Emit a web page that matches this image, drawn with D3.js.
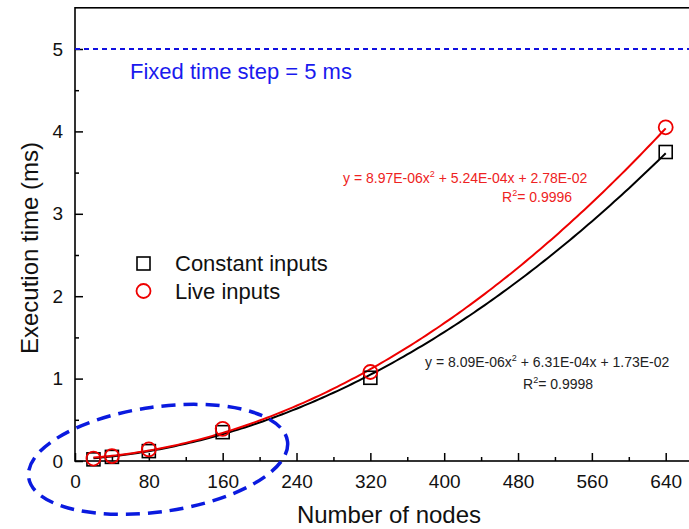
<!DOCTYPE html>
<html><head><meta charset="utf-8">
<script src="https://cdn.jsdelivr.net/npm/d3@7"></script>
<style>body{margin:0;background:#fff}svg{display:block}text{font-family:"Liberation Sans",Arial,sans-serif}</style>
</head><body><svg id="c" width="689" height="529"></svg>
<script>
const nodes = [20, 40, 80, 160, 320, 640];
const constantInputs = [0.02, 0.05, 0.12, 0.35, 1.01, 3.75];
const liveInputs = [0.03, 0.06, 0.14, 0.39, 1.08, 4.05];
const constantFit = [8.09e-6, 6.31e-4, 1.73e-2];
const liveFit = [8.97e-6, 5.24e-4, 2.78e-2];
const xTicks = [0, 80, 160, 240, 320, 400, 480, 560, 640];
const yTicks = [0, 1, 2, 3, 4, 5];
const fixedStep = 5;

const svg = d3.select("#c");
const x = d3.scaleLinear().domain([0, 670]).range([75, 693.4]);
const y = d3.scaleLinear().domain([0, 5.5]).range([461, 7.8]);
const FONT = '"Liberation Sans",Arial,sans-serif';

// frame
svg.append("rect").attr("x", 75).attr("y", y(5.5)).attr("width", 650).attr("height", y(0) - y(5.5))
  .attr("fill", "none").attr("stroke", "#000").attr("stroke-width", 1.6);

// x axis
svg.append("g").attr("transform", `translate(0,${y(0)})`)
  .call(d3.axisBottom(x).tickValues(xTicks).tickSize(-8).tickPadding(14).tickFormat(d3.format("d")));
svg.append("g").attr("transform", `translate(0,${y(0)})`)
  .call(d3.axisBottom(x).tickValues(d3.range(40, 670, 80)).tickSize(-4).tickFormat(""));
// y axis
svg.append("g").attr("transform", `translate(${x(0)},0)`)
  .call(d3.axisLeft(y).tickValues(yTicks).tickSize(-8).tickPadding(12).tickFormat(d3.format("d")));
svg.append("g").attr("transform", `translate(${x(0)},0)`)
  .call(d3.axisLeft(y).tickValues([0.5, 1.5, 2.5, 3.5, 4.5]).tickSize(-4).tickFormat(""));
svg.selectAll(".domain").attr("stroke", "none");
svg.selectAll(".tick line").attr("stroke", "#000").attr("stroke-width", 1.5);
svg.selectAll(".tick text").attr("font-size", 19).attr("fill", "#111").style("font-family", FONT);

// axis titles
svg.append("text").attr("x", 389).attr("y", 523).attr("text-anchor", "middle").attr("font-size", 24).attr("fill", "#111").text("Number of nodes");
svg.append("text").attr("transform", "translate(38,248) rotate(-90)").attr("text-anchor", "middle").attr("font-size", 24).attr("fill", "#111").text("Execution time (ms)");

// fixed time step
svg.append("line").attr("x1", x(0)).attr("x2", 689).attr("y1", y(fixedStep)).attr("y2", y(fixedStep))
  .attr("stroke", "#1010e0").attr("stroke-width", 1.8).attr("stroke-dasharray", "5,4");
svg.append("text").attr("x", 130).attr("y", 79).attr("font-size", 22).attr("fill", "#1a1aee").text("Fixed time step = 5 ms");

// fit curves
const poly = (c, v) => c[0] * v * v + c[1] * v + c[2];
const xs = d3.range(nodes[0], nodes[nodes.length - 1] + 1, 4);
const line = d3.line().x(d => x(d[0])).y(d => y(d[1]));
svg.append("path").datum(xs.map(v => [v, poly(constantFit, v)])).attr("d", line)
  .attr("fill", "none").attr("stroke", "#000").attr("stroke-width", 2);
svg.append("path").datum(xs.map(v => [v, poly(liveFit, v)])).attr("d", line)
  .attr("fill", "none").attr("stroke", "#ee0000").attr("stroke-width", 2);

// markers
svg.selectAll(".sq").data(nodes).enter().append("rect")
  .attr("x", (d, i) => x(d) - 6.5).attr("y", (d, i) => y(constantInputs[i]) - 6.5)
  .attr("width", 13).attr("height", 13).attr("fill", "none").attr("stroke", "#000").attr("stroke-width", 1.6);
svg.selectAll(".ci").data(nodes).enter().append("circle")
  .attr("cx", d => x(d)).attr("cy", (d, i) => y(liveInputs[i])).attr("r", 7)
  .attr("fill", "none").attr("stroke", "#ee0000").attr("stroke-width", 1.8);

// legend
svg.append("rect").attr("x", 137).attr("y", 257).attr("width", 13).attr("height", 13)
  .attr("fill", "none").attr("stroke", "#000").attr("stroke-width", 1.6);
svg.append("text").attr("x", 175).attr("y", 271).attr("font-size", 22).attr("fill", "#111").text("Constant inputs");
svg.append("circle").attr("cx", 143.5).attr("cy", 291).attr("r", 7)
  .attr("fill", "none").attr("stroke", "#ee0000").attr("stroke-width", 1.8);
svg.append("text").attr("x", 175).attr("y", 299).attr("font-size", 22).attr("fill", "#111").text("Live inputs");

// equations
const fmt = v => v.toExponential(2).toUpperCase().replace(/E([+-])(\d)$/, "E$10$2");
function eq(xp, yp, color, c) {
  const t = svg.append("text").attr("x", xp).attr("y", yp).attr("font-size", 14).attr("fill", color);
  t.append("tspan").text(`y = ${fmt(c[0])}x`);
  t.append("tspan").attr("dy", -6).attr("font-size", 9).text("2");
  t.append("tspan").attr("dy", 6).text(` + ${fmt(c[1])}x + ${fmt(c[2])}`);
}
function r2(xp, yp, color, val) {
  const t = svg.append("text").attr("x", xp).attr("y", yp).attr("font-size", 14).attr("fill", color);
  t.append("tspan").text("R");
  t.append("tspan").attr("dy", -6).attr("font-size", 9).text("2");
  t.append("tspan").attr("dy", 6).text("= " + val);
}
eq(343, 183, "#ee2222", liveFit);
r2(502, 202, "#ee2222", "0.9996");
eq(425, 367, "#222", constantFit);
r2(523, 389, "#222", "0.9998");

// highlight ellipse (data units, tilted)
const ell = { cx: 90, cy: 0.02, rx: 141.6, ry: 0.636, angle: -8 };
svg.append("ellipse")
  .attr("transform", `translate(${x(ell.cx)},${y(ell.cy)}) rotate(${ell.angle})`)
  .attr("rx", x(ell.rx) - x(0)).attr("ry", y(0) - y(ell.ry))
  .attr("fill", "none").attr("stroke", "#0a1adf").attr("stroke-width", 3.5).attr("stroke-dasharray", "14,8");
</script></body></html>
